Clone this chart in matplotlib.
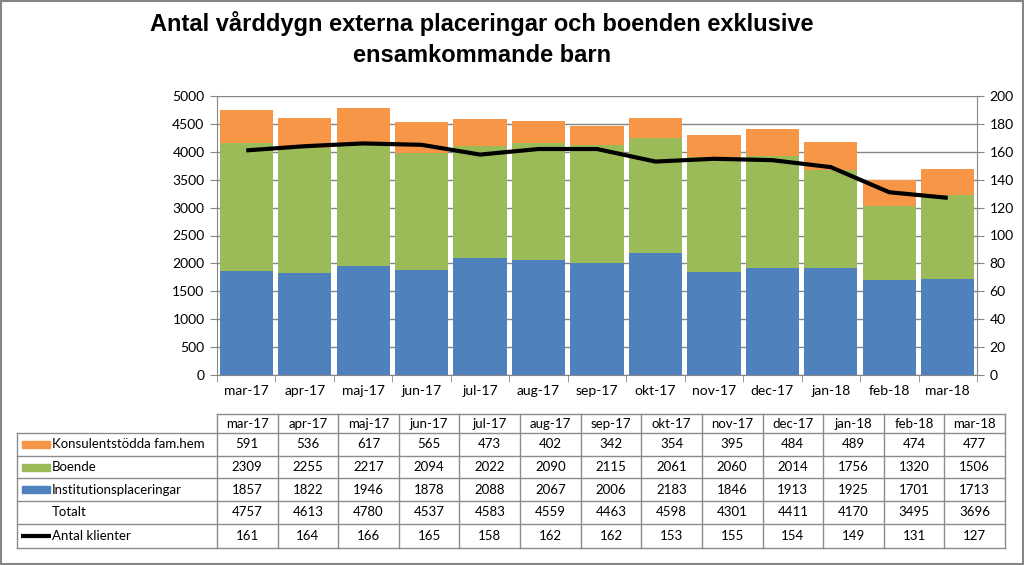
import matplotlib
matplotlib.use("Agg")
import matplotlib.pyplot as plt
from matplotlib.patches import Rectangle
from matplotlib.lines import Line2D

categories = ['mar-17', 'apr-17', 'maj-17', 'jun-17', 'jul-17', 'aug-17', 'sep-17',
              'okt-17', 'nov-17', 'dec-17', 'jan-18', 'feb-18', 'mar-18']
konsulent = [591, 536, 617, 565, 473, 402, 342, 354, 395, 484, 489, 474, 477]
boende = [2309, 2255, 2217, 2094, 2022, 2090, 2115, 2061, 2060, 2014, 1756, 1320, 1506]
institution = [1857, 1822, 1946, 1878, 2088, 2067, 2006, 2183, 1846, 1913, 1925, 1701, 1713]
totalt = [4757, 4613, 4780, 4537, 4583, 4559, 4463, 4598, 4301, 4411, 4170, 3495, 3696]
klienter = [161, 164, 166, 165, 158, 162, 162, 153, 155, 154, 149, 131, 127]

series_names = ['Konsulentstödda fam.hem', 'Boende', 'Institutionsplaceringar', 'Totalt', 'Antal klienter']

BLUE = '#4F81BD'
GREEN = '#9BBB59'
ORANGE = '#F79646'
GRAY = '#868686'
FONT = ['Lato', 'DejaVu Sans']
TITLEFONT = ['Liberation Sans Narrow', 'Liberation Sans', 'DejaVu Sans']

W, H = 1024, 565
fig = plt.figure(figsize=(W / 100, H / 100), dpi=100)

# main axes (pixel layout: x 217..977, y 96..375)
ax = fig.add_axes([217 / W, 1 - 375 / H, 760 / W, 279 / H])
x = list(range(len(categories)))
bw = 0.91
ax.bar(x, institution, bw, color=BLUE, zorder=2)
b2 = [i for i in institution]
ax.bar(x, boende, bw, bottom=b2, color=GREEN, zorder=2)
b3 = [i + b for i, b in zip(institution, boende)]
ax.bar(x, konsulent, bw, bottom=b3, color=ORANGE, zorder=2)
ax.set_xlim(-0.5, len(categories) - 0.5)
ax.set_ylim(0, 5000)
ax.set_yticks(range(0, 5001, 500))
ax.yaxis.grid(True, color=GRAY, linewidth=1, zorder=0)
ax.set_axisbelow(True)
ax.set_xticks(x)
ax.set_xticklabels(categories, fontsize=10, family=FONT)
ax.set_xticks([i - 0.5 for i in range(len(categories) + 1)], minor=True)
ax.tick_params(axis='x', which='major', length=0, pad=7)
ax.tick_params(axis='x', which='minor', length=5, color=GRAY, direction='out')
ax.tick_params(axis='y', length=5, color=GRAY, direction='out', labelsize=10, pad=4)
for lab in ax.get_yticklabels():
    lab.set_family(FONT)
for s in ['left', 'bottom']:
    ax.spines[s].set_color(GRAY)
ax.spines['top'].set_visible(False)
ax.spines['right'].set_visible(False)

ax2 = ax.twinx()
ax2.set_ylim(0, 200)
ax2.set_yticks(range(0, 201, 20))
ax2.plot(x, klienter, color='black', linewidth=3, solid_capstyle='butt', zorder=5)
ax2.tick_params(axis='y', length=5, color=GRAY, direction='out', labelsize=10, pad=4)
for lab in ax2.get_yticklabels():
    lab.set_family(FONT)
for s in ['left', 'top', 'bottom']:
    ax2.spines[s].set_visible(False)
ax2.spines['right'].set_color(GRAY)

# overlay axes in pixel coordinates for title, table, frame
ov = fig.add_axes([0, 0, 1, 1], zorder=-1)
ov.set_xlim(0, W)
ov.set_ylim(H, 0)
ov.axis('off')

ov.add_patch(Rectangle((1, 1), W - 2, H - 2, fill=False, edgecolor=GRAY, linewidth=1.5))
ov.text(482, 24, 'Antal vårddygn externa placeringar och boenden exklusive',
        ha='center', va='center', fontsize=17, fontweight='bold', family=TITLEFONT)
ov.text(482, 55, 'ensamkommande barn',
        ha='center', va='center', fontsize=17, fontweight='bold', family=TITLEFONT)

ovt = fig.add_axes([0, 0, 1, 1], zorder=3)
ovt.set_xlim(0, W)
ovt.set_ylim(H, 0)
ovt.axis('off')

tab_left, tab_lab_right, tab_right = 17, 217, 1005
ncol = len(categories)
colw = (tab_right - tab_lab_right) / ncol
row_y = [414, 433, 456, 478, 501, 524, 548]
lc = '#8C8C8C'
# horizontal lines
ovt.plot([tab_lab_right, tab_right], [row_y[0], row_y[0]], color=lc, lw=1)
for yy in row_y[1:]:
    ovt.plot([tab_left, tab_right], [yy, yy], color=lc, lw=1)
# vertical lines
ovt.plot([tab_left, tab_left], [row_y[1], row_y[-1]], color=lc, lw=1)
for c in range(ncol + 1):
    xx = tab_lab_right + c * colw
    ovt.plot([xx, xx], [row_y[0], row_y[-1]], color=lc, lw=1)

rows = [konsulent, boende, institution, totalt, klienter]
for c, cat in enumerate(categories):
    cx = tab_lab_right + (c + 0.5) * colw
    ovt.text(cx, (row_y[0] + row_y[1]) / 2, cat, ha='center', va='center', fontsize=9.5, family=FONT)
    for r, vals in enumerate(rows):
        cy = (row_y[r + 1] + row_y[r + 2]) / 2
        ovt.text(cx, cy, str(vals[c]), ha='center', va='center', fontsize=9.5, family=FONT)

swatch_colors = [ORANGE, GREEN, BLUE, None, 'line']
for r, name in enumerate(series_names):
    cy = (row_y[r + 1] + row_y[r + 2]) / 2
    sc = swatch_colors[r]
    if sc == 'line':
        ovt.plot([21, 51], [cy, cy], color='black', lw=3, solid_capstyle='butt')
    elif sc is not None:
        ovt.add_patch(Rectangle((22, cy - 3.5), 28, 7, color=sc))
    ovt.text(52, cy, name, ha='left', va='center', fontsize=9.5, family=FONT)

fig.savefig('out.png', dpi=100)
